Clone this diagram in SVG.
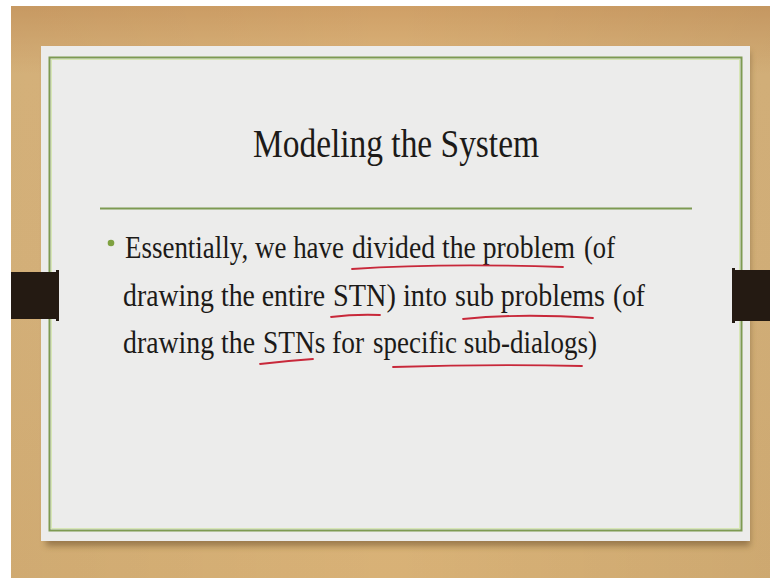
<svg xmlns="http://www.w3.org/2000/svg" width="770" height="578" viewBox="0 0 770 578">
  <defs>
    <linearGradient id="wood" x1="0" y1="0" x2="0" y2="1">
      <stop offset="0" stop-color="#cf9f66"/>
      <stop offset="0.12" stop-color="#dcb77e"/>
      <stop offset="0.5" stop-color="#dbb67d"/>
      <stop offset="1" stop-color="#d8b176"/>
    </linearGradient>
    <linearGradient id="woodSide" x1="0" y1="0" x2="1" y2="0">
      <stop offset="0" stop-color="#000" stop-opacity="0.04"/>
      <stop offset="0.5" stop-color="#000" stop-opacity="0"/>
      <stop offset="1" stop-color="#000" stop-opacity="0.05"/>
    </linearGradient>
    <filter id="shadow" x="-5%" y="-5%" width="110%" height="115%">
      <feGaussianBlur stdDeviation="3"/>
    </filter>
    <style>
      .body { font-family: "Liberation Serif", "DejaVu Serif", serif; fill: #1c1a18; }
      .para { font-size: 32px; }
      .ink { fill: none; stroke: #c8283a; stroke-width: 1.8; stroke-linecap: round; }
      .clip { fill: #241a12; }
    </style>
  </defs>

  <!-- page margin -->
  <rect x="0" y="0" width="770" height="578" fill="#ffffff"/>

  <!-- wooden backdrop -->
  <rect x="11" y="6" width="759" height="572" fill="url(#wood)"/>
  <rect x="11" y="6" width="759" height="572" fill="url(#woodSide)"/>

  <!-- slide paper with drop shadow -->
  <rect x="46" y="52" width="704" height="494" fill="#6b4f2a" opacity="0.55" filter="url(#shadow)"/>
  <rect x="41" y="46" width="709" height="495" fill="#ececeb"/>

  <!-- green frame -->
  <rect x="49.5" y="57.5" width="692" height="473" fill="none" stroke="#7d9a52" stroke-width="2"/>
  <rect x="51.5" y="59.5" width="688" height="469" fill="none" stroke="#d7e6b6" stroke-width="1"/>

  <!-- binder clips -->
  <g id="clip-left">
    <rect class="clip" x="11" y="272" width="47" height="47"/>
    <rect class="clip" x="56" y="270" width="3" height="51"/>
  </g>
  <g id="clip-right">
    <rect class="clip" x="733" y="270" width="37" height="51"/>
    <rect class="clip" x="732" y="268" width="3" height="55"/>
  </g>

  <!-- title -->
  <g id="title">
    <text class="body" x="253" y="157" font-size="40" textLength="286" lengthAdjust="spacingAndGlyphs">Modeling the System</text>
  </g>

  <!-- rule under title -->
  <line x1="100" y1="208.5" x2="692" y2="208.5" stroke="#7d9a52" stroke-width="2"/>

  <!-- bullet paragraph, set in word runs -->
  <g id="bullet" class="body para">
    <circle cx="111" cy="243" r="3.3" fill="#7fa140"/>
    <g id="line-1">
      <text x="125" y="258" textLength="219" lengthAdjust="spacingAndGlyphs">Essentially, we have</text>
      <text x="352" y="258" textLength="223" lengthAdjust="spacingAndGlyphs">divided the problem</text>
      <text x="584" y="258" textLength="31" lengthAdjust="spacingAndGlyphs">(of</text>
    </g>
    <g id="line-2">
      <text x="123" y="306" textLength="202" lengthAdjust="spacingAndGlyphs">drawing the entire</text>
      <text x="333" y="306" textLength="114" lengthAdjust="spacingAndGlyphs">STN) into</text>
      <text x="455" y="306" textLength="150" lengthAdjust="spacingAndGlyphs">sub problems</text>
      <text x="613" y="306" textLength="32" lengthAdjust="spacingAndGlyphs">(of</text>
    </g>
    <g id="line-3">
      <text x="123" y="353" textLength="132" lengthAdjust="spacingAndGlyphs">drawing the</text>
      <text x="263" y="353" textLength="101" lengthAdjust="spacingAndGlyphs">STNs for</text>
      <text x="373" y="353" textLength="224" lengthAdjust="spacingAndGlyphs">specific sub-dialogs)</text>
    </g>
  </g>

  <!-- hand-drawn underlines -->
  <g id="annotations">
    <path class="ink" d="M352 269 Q440 263 563 267"/>
    <path class="ink" d="M331 317 Q355 314 380 315"/>
    <path class="ink" d="M463 319 Q520 313 593 318"/>
    <path class="ink" d="M260 364 Q285 361 313 359"/>
    <path class="ink" d="M393 367 Q490 364 582 366"/>
  </g>
</svg>
